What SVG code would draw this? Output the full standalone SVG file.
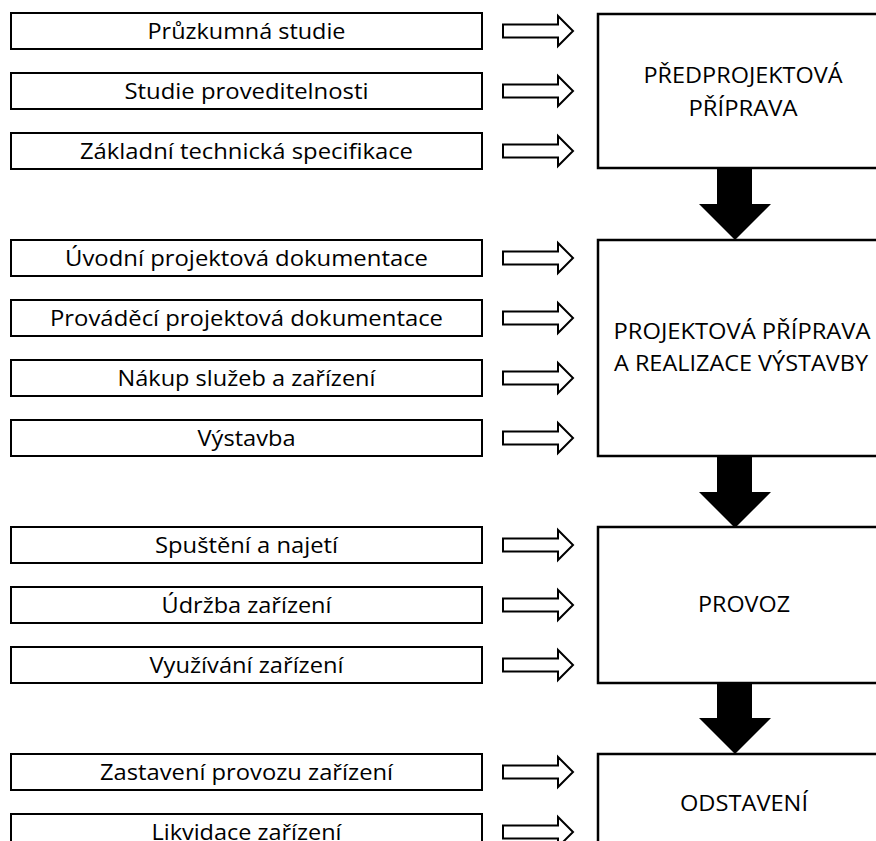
<svg xmlns="http://www.w3.org/2000/svg" width="876" height="841" viewBox="0 0 876 841">
<style>
.bg{fill:#fff}
.lbox{fill:#fff;stroke:#000;stroke-width:2}
.rbox{fill:#fff;stroke:#000;stroke-width:2.5}
.ha{fill:#fff;stroke:#000;stroke-width:2;stroke-linejoin:miter}
.ba{fill:#000;stroke:none}
text{font-family:"Open Sans","Noto Sans","Liberation Sans",sans-serif;font-size:21px;fill:#000;text-anchor:middle}
</style>
<rect class="bg" x="0" y="0" width="876" height="841"/>
<g id="phases">
<g id="p1"><rect class="rbox" x="598" y="14" width="292" height="154"/><text x="743" y="83" textLength="199" lengthAdjust="spacingAndGlyphs">PŘEDPROJEKTOVÁ</text><text x="743" y="116" textLength="109" lengthAdjust="spacingAndGlyphs">PŘÍPRAVA</text></g>
<g id="p2"><rect class="rbox" x="598" y="240" width="292" height="216"/><text x="742" y="339" textLength="257" lengthAdjust="spacingAndGlyphs">PROJEKTOVÁ PŘÍPRAVA</text><text x="741" y="371" textLength="254" lengthAdjust="spacingAndGlyphs">A REALIZACE VÝSTAVBY</text></g>
<g id="p3"><rect class="rbox" x="598" y="527" width="292" height="156"/><text x="744" y="612" textLength="92" lengthAdjust="spacingAndGlyphs">PROVOZ</text></g>
<g id="p4"><rect class="rbox" x="598" y="754" width="292" height="100"/><text x="744" y="811" textLength="128" lengthAdjust="spacingAndGlyphs">ODSTAVENÍ</text></g>
</g>
<g id="items">
<g id="i1"><rect class="lbox" x="11" y="13" width="471" height="36"/><text x="246.5" y="39" textLength="198" lengthAdjust="spacingAndGlyphs">Průzkumná studie</text></g>
<g id="i2"><rect class="lbox" x="11" y="73" width="471" height="36"/><text x="246.5" y="99" textLength="244" lengthAdjust="spacingAndGlyphs">Studie proveditelnosti</text></g>
<g id="i3"><rect class="lbox" x="11" y="133" width="471" height="36"/><text x="246.5" y="159" textLength="333" lengthAdjust="spacingAndGlyphs">Základní technická specifikace</text></g>
<g id="i4"><rect class="lbox" x="11" y="240" width="471" height="36"/><text x="246.5" y="266" textLength="363" lengthAdjust="spacingAndGlyphs">Úvodní projektová dokumentace</text></g>
<g id="i5"><rect class="lbox" x="11" y="300" width="471" height="36"/><text x="246.5" y="326" textLength="393" lengthAdjust="spacingAndGlyphs">Prováděcí projektová dokumentace</text></g>
<g id="i6"><rect class="lbox" x="11" y="360" width="471" height="36"/><text x="246.5" y="386" textLength="258" lengthAdjust="spacingAndGlyphs">Nákup služeb a zařízení</text></g>
<g id="i7"><rect class="lbox" x="11" y="420" width="471" height="36"/><text x="246.5" y="446" textLength="98" lengthAdjust="spacingAndGlyphs">Výstavba</text></g>
<g id="i8"><rect class="lbox" x="11" y="527" width="471" height="36"/><text x="246.5" y="553" textLength="183" lengthAdjust="spacingAndGlyphs">Spuštění a najetí</text></g>
<g id="i9"><rect class="lbox" x="11" y="587" width="471" height="36"/><text x="246.5" y="613" textLength="170" lengthAdjust="spacingAndGlyphs">Údržba zařízení</text></g>
<g id="i10"><rect class="lbox" x="11" y="647" width="471" height="36"/><text x="246.5" y="673" textLength="194" lengthAdjust="spacingAndGlyphs">Využívání zařízení</text></g>
<g id="i11"><rect class="lbox" x="11" y="754" width="471" height="36"/><text x="246.5" y="780" textLength="293" lengthAdjust="spacingAndGlyphs">Zastavení provozu zařízení</text></g>
<g id="i12"><rect class="lbox" x="11" y="814" width="471" height="36"/><text x="246.5" y="840" textLength="190" lengthAdjust="spacingAndGlyphs">Likvidace zařízení</text></g>
</g>
<g id="connectors">
<path class="ha" d="M503,24.5H558V16L573,31L558,46V37.5H503Z"/>
<path class="ha" d="M503,84.5H558V76L573,91L558,106V97.5H503Z"/>
<path class="ha" d="M503,144.5H558V136L573,151L558,166V157.5H503Z"/>
<path class="ha" d="M503,251.5H558V243L573,258L558,273V264.5H503Z"/>
<path class="ha" d="M503,311.5H558V303L573,318L558,333V324.5H503Z"/>
<path class="ha" d="M503,371.5H558V363L573,378L558,393V384.5H503Z"/>
<path class="ha" d="M503,431.5H558V423L573,438L558,453V444.5H503Z"/>
<path class="ha" d="M503,538.5H558V530L573,545L558,560V551.5H503Z"/>
<path class="ha" d="M503,598.5H558V590L573,605L558,620V611.5H503Z"/>
<path class="ha" d="M503,658.5H558V650L573,665L558,680V671.5H503Z"/>
<path class="ha" d="M503,765.5H558V757L573,772L558,787V778.5H503Z"/>
<path class="ha" d="M503,825.5H558V817L573,832L558,847V838.5H503Z"/>
<path class="ba" d="M717,167H752V204H771L735,240L699,204H717Z"/>
<path class="ba" d="M717,455H752V492H771L735,528L699,492H717Z"/>
<path class="ba" d="M717,682H752V718H771L735,754L699,718H717Z"/>
</g>
</svg>
